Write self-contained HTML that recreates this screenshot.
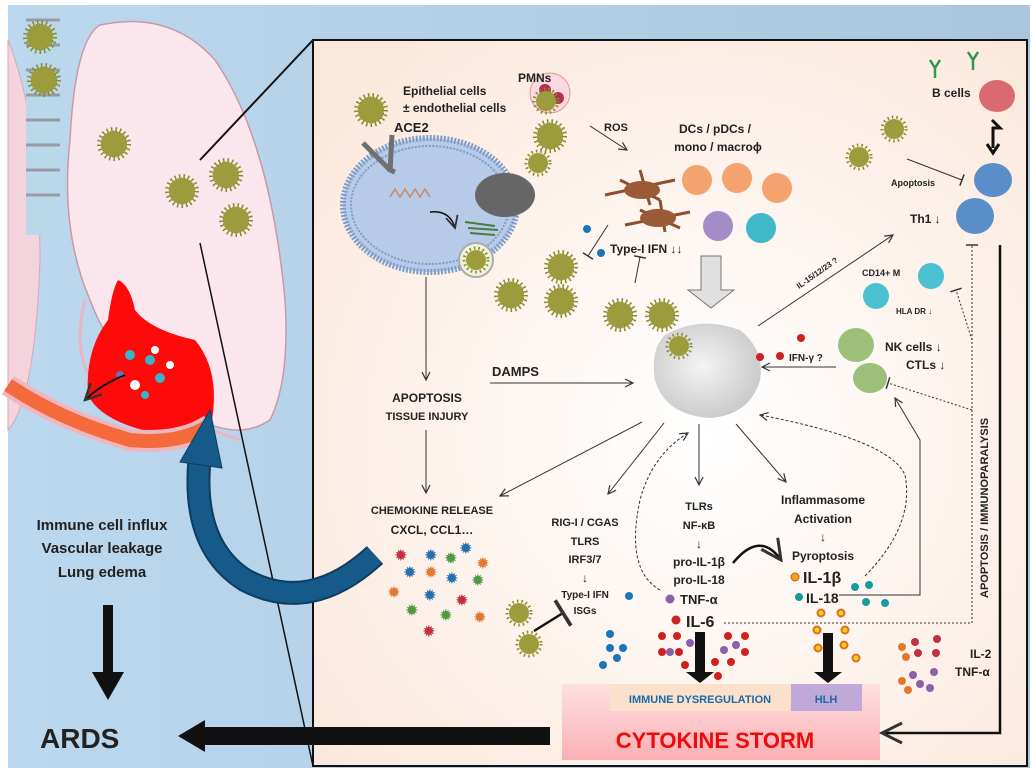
<!DOCTYPE html>
<html><head><meta charset="utf-8"><style>
html,body{margin:0;padding:0;background:#fff}
svg{display:block}
text{font-family:"Liberation Sans",sans-serif;font-weight:bold;fill:#222}
</style></head><body>
<svg width="1032" height="772" viewBox="0 0 1032 772" xmlns="http://www.w3.org/2000/svg">
<defs>
<linearGradient id="bg" x1="0" y1="0" x2="1" y2="0"><stop offset="0" stop-color="#bcd8ee"/><stop offset="1" stop-color="#a9c6de"/></linearGradient>
<radialGradient id="box" cx="0.55" cy="0.55" r="0.7"><stop offset="0" stop-color="#ffffff"/><stop offset="1" stop-color="#fbe8dc"/></radialGradient>
<linearGradient id="storm" x1="0" y1="0" x2="0" y2="1"><stop offset="0" stop-color="#fde0e2"/><stop offset="1" stop-color="#fbb0b4"/></linearGradient>
<radialGradient id="mac" cx="0.45" cy="0.45" r="0.6"><stop offset="0" stop-color="#f4f4f4"/><stop offset="1" stop-color="#c8c8c8"/></radialGradient>
<g id="v"><circle r="15" fill="none" stroke="#8a8a2a" stroke-width="4" stroke-dasharray="1.5 3"/><circle r="13" fill="#9c9c3c"/><circle r="13" fill="none" stroke="#7e7e28" stroke-width="1" stroke-dasharray="1 2"/></g>
<g id="vs"><circle r="12" fill="none" stroke="#8a8a2a" stroke-width="3" stroke-dasharray="1.5 3"/><circle r="10" fill="#9c9c3c"/></g>
<marker id="a" markerWidth="10" markerHeight="10" refX="9" refY="5" orient="auto"><path d="M1,1 L9,5 L1,9" fill="none" stroke="#333" stroke-width="1.2"/></marker>
<marker id="t" markerWidth="4" markerHeight="12" refX="2" refY="6" orient="auto"><path d="M2,0 L2,12" stroke="#333" stroke-width="1.5"/></marker>
</defs>
<rect x="8" y="5" width="1022" height="763" fill="url(#bg)"/>
<path d="M8,40 Q40,120 40,260 Q35,400 8,430 Z" fill="#f3d3dc" stroke="#d8a7b3"/>
<rect x="26" y="5" width="34" height="230" fill="#b9d9ea"/>
<g stroke="#9a9aa5" stroke-width="3">
<line x1="26" y1="20" x2="60" y2="20"/><line x1="26" y1="45" x2="60" y2="45"/><line x1="26" y1="70" x2="60" y2="70"/><line x1="26" y1="95" x2="60" y2="95"/><line x1="26" y1="120" x2="60" y2="120"/><line x1="26" y1="145" x2="60" y2="145"/><line x1="26" y1="170" x2="60" y2="170"/><line x1="26" y1="195" x2="60" y2="195"/></g>
<use href="#v" x="40" y="37"/><use href="#v" x="44" y="80"/>
<path d="M100,25 Q170,10 215,60 Q270,140 285,300 Q290,380 270,420 Q240,440 200,420 Q120,380 90,300 Q60,230 70,140 Q75,40 100,25 Z" fill="#fae6ec" stroke="#c79aa5" stroke-width="1.5"/>
<path d="M85,300 Q70,360 100,390 L240,440" fill="none" stroke="#e9b5c2" stroke-width="3"/>
<path d="M118,280 Q130,285 135,310 Q150,330 195,340 Q220,370 212,420 Q200,438 150,432 Q100,420 88,395 Q85,350 108,320 Q112,290 118,280 Z" fill="#ff0a0a"/>
<g><circle cx="130" cy="355" r="5" fill="#3ab3c8"/><circle cx="150" cy="360" r="5" fill="#3ab3c8"/><circle cx="160" cy="378" r="5" fill="#3ab3c8"/><circle cx="135" cy="385" r="5" fill="#fff"/><circle cx="155" cy="350" r="4" fill="#fff"/><circle cx="120" cy="375" r="4" fill="#7070b0"/><circle cx="170" cy="365" r="4" fill="#fff"/><circle cx="145" cy="395" r="4" fill="#3ab3c8"/></g>
<path d="M8,385 Q60,420 130,440 Q180,445 210,425" fill="none" stroke="#f0b6c0" stroke-width="22"/>
<path d="M8,385 Q60,420 130,440 Q180,445 210,425" fill="none" stroke="#f56a3a" stroke-width="14"/>
<path d="M125,375 Q100,385 85,400" fill="none" stroke="#111" stroke-width="2" marker-end="url(#a)"/>
<use href="#v" x="114" y="144"/><use href="#v" x="182" y="191"/><use href="#v" x="226" y="175"/><use href="#v" x="236" y="220"/>
<line x1="200" y1="160" x2="313" y2="40" stroke="#111" stroke-width="2"/>
<line x1="200" y1="243" x2="313" y2="766" stroke="#111" stroke-width="1.5"/>
<rect x="313" y="40" width="714" height="726" fill="url(#box)" stroke="#111" stroke-width="2"/>
<!-- blue curved arrow -->
<path d="M375,555 Q310,615 245,580 Q190,545 200,455" fill="none" stroke="#0e3d60" stroke-width="24"/>
<path d="M375,555 Q310,615 245,580 Q190,545 200,455" fill="none" stroke="#165a8a" stroke-width="20"/>
<path d="M180,462 L210,410 L222,468 Z" fill="#165a8a" stroke="#0e3d60"/>
<text x="102" y="530" text-anchor="middle" font-size="15">Immune cell influx</text>
<text x="102" y="553" text-anchor="middle" font-size="15">Vascular leakage</text>
<text x="102" y="577" text-anchor="middle" font-size="15">Lung edema</text>
<rect x="103" y="605" width="10" height="70" fill="#111"/><path d="M92,672 L124,672 L108,700 Z" fill="#111"/>
<text x="40" y="748" font-size="28" fill="#111">ARDS</text>
<rect x="200" y="727" width="350" height="18" fill="#111"/><path d="M178,736 L205,720 L205,752 Z" fill="#111"/>
<ellipse cx="430" cy="205" rx="87" ry="67" fill="#b7cbe8" stroke="#7f9dc8" stroke-width="6" stroke-dasharray="2 1.5"/>
<ellipse cx="430" cy="205" rx="79" ry="59" fill="none" stroke="#7f9dc8" stroke-width="2" stroke-dasharray="2 1.5"/>
<ellipse cx="505" cy="195" rx="30" ry="22" fill="#666"/>
<path d="M390,197 l5,-8 l5,8 l5,-8 l5,8 l5,-8 l5,8 l5,-8 l5,8" fill="none" stroke="#c88a5a" stroke-width="1.5"/>
<path d="M430,212 Q450,210 455,228" fill="none" stroke="#111" stroke-width="1.5" marker-end="url(#a)"/>
<path d="M465,222 l30,4 M468,228 l30,2 M470,233 l25,2" stroke="#4a7a40" stroke-width="2"/>
<circle cx="476" cy="260" r="17" fill="#eef4dc" stroke="#aaa" stroke-width="2"/><use href="#vs" x="476" y="260"/>
<path d="M363,143 L390,170 L395,172" stroke="#707070" stroke-width="5" fill="none"/>
<path d="M392,135 L390,172" stroke="#707070" stroke-width="5" fill="none"/>
<use href="#v" x="371" y="110"/>
<text x="403" y="95" font-size="12">Epithelial cells</text>
<text x="403" y="112" font-size="12">± endothelial cells</text>
<text x="394" y="132" font-size="13">ACE2</text>
<circle cx="550" cy="93" r="20" fill="#fbd7e2" stroke="#d99"/><circle cx="545" cy="90" r="6" fill="#b0304e"/><circle cx="558" cy="98" r="6" fill="#b0304e"/>
<use href="#vs" x="546" y="101"/>
<text x="518" y="82" font-size="12">PMNs</text>
<use href="#v" x="550" y="136"/><use href="#vs" x="538" y="163"/>
<text x="604" y="131" font-size="11" font-weight="normal">ROS</text>
<line x1="590" y1="126" x2="627" y2="150" stroke="#333" marker-end="url(#a)"/>
<text x="715" y="133" text-anchor="middle" font-size="12">DCs / pDCs /</text>
<text x="718" y="151" text-anchor="middle" font-size="12">mono / macroϕ</text>
<g stroke="#8a5030" stroke-width="3" fill="none"><path d="M605,195 L675,180 M620,180 L660,200 M640,170 L650,205"/><path d="M625,225 L690,212 M640,210 L680,228 M660,200 L665,232"/></g>
<ellipse cx="642" cy="190" rx="18" ry="9" fill="#9a5a35"/><ellipse cx="658" cy="218" rx="18" ry="9" fill="#9a5a35"/>
<circle cx="697" cy="180" r="15" fill="#f4a36e"/><circle cx="737" cy="178" r="15" fill="#f4a36e"/><circle cx="777" cy="188" r="15" fill="#f4a36e"/>
<circle cx="718" cy="226" r="15" fill="#a48cc8"/><circle cx="761" cy="228" r="15" fill="#3fb8c8"/>
<circle cx="587" cy="229" r="4" fill="#1a76b8"/><circle cx="601" cy="253" r="4" fill="#1a76b8"/>
<text x="610" y="253" font-size="12">Type-I IFN ↓↓</text>
<line x1="608" y1="225" x2="588" y2="256" stroke="#333" marker-end="url(#t)"/>
<line x1="635" y1="283" x2="640" y2="257" stroke="#333" marker-end="url(#t)"/>
<use href="#v" x="561" y="267"/><use href="#v" x="561" y="301"/><use href="#v" x="511" y="295"/><use href="#v" x="620" y="315"/><use href="#v" x="662" y="315"/>
<path d="M701,256 L721,256 L721,290 L734,290 L711,308 L688,290 L701,290 Z" fill="#e0e0e0" stroke="#777"/>
<path d="M665,335 Q700,315 740,330 Q765,350 760,380 Q750,415 710,418 Q665,415 655,380 Q650,350 665,335 Z" fill="url(#mac)"/>
<use href="#vs" x="679" y="346"/>
<text x="492" y="376" font-size="13">DAMPS</text>
<line x1="490" y1="383" x2="633" y2="383" stroke="#333" marker-end="url(#a)"/>
<line x1="426" y1="277" x2="426" y2="380" stroke="#333" marker-end="url(#a)"/>
<text x="427" y="402" text-anchor="middle" font-size="12">APOPTOSIS</text>
<text x="427" y="420" text-anchor="middle" font-size="11" font-weight="normal">TISSUE INJURY</text>
<line x1="426" y1="430" x2="426" y2="493" stroke="#333" marker-end="url(#a)"/>
<text x="432" y="514" text-anchor="middle" font-size="11">CHEMOKINE RELEASE</text>
<text x="432" y="534" text-anchor="middle" font-size="12">CXCL, CCL1…</text>
<g font-size="14" font-family="DejaVu Sans" font-weight="bold"><text x="395" y="560" style="fill:#c03040">✹</text><text x="425" y="560" style="fill:#2070b0">✹</text><text x="445" y="563" style="fill:#4a9a40">✹</text><text x="460" y="553" style="fill:#2070b0">✹</text><text x="477" y="568" style="fill:#e07830">✹</text><text x="404" y="577" style="fill:#2070b0">✹</text><text x="425" y="577" style="fill:#e07830">✹</text><text x="446" y="583" style="fill:#2070b0">✹</text><text x="472" y="585" style="fill:#4a9a40">✹</text><text x="388" y="597" style="fill:#e07830">✹</text><text x="424" y="600" style="fill:#2070b0">✹</text><text x="456" y="605" style="fill:#c03040">✹</text><text x="406" y="615" style="fill:#4a9a40">✹</text><text x="440" y="620" style="fill:#4a9a40">✹</text><text x="474" y="622" style="fill:#e07830">✹</text><text x="423" y="636" style="fill:#c03040">✹</text></g>
<line x1="642" y1="422" x2="500" y2="496" stroke="#333" marker-end="url(#a)"/>
<line x1="664" y1="423" x2="608" y2="494" stroke="#333" marker-end="url(#a)"/>
<line x1="699" y1="424" x2="699" y2="485" stroke="#333" marker-end="url(#a)"/>
<line x1="736" y1="424" x2="786" y2="482" stroke="#333" marker-end="url(#a)"/>
<path d="M660,590 Q625,570 640,500 Q652,455 688,433" fill="none" stroke="#333" stroke-dasharray="3 2" marker-end="url(#a)"/>
<path d="M865,576 Q915,525 905,475 Q890,440 760,415" fill="none" stroke="#333" stroke-dasharray="3 2" marker-end="url(#a)"/>
<text x="585" y="526" text-anchor="middle" font-size="11">RIG-I / CGAS</text>
<text x="585" y="545" text-anchor="middle" font-size="11">TLRS</text>
<text x="585" y="563" text-anchor="middle" font-size="11">IRF3/7</text>
<text x="585" y="582" text-anchor="middle" font-size="12" font-weight="normal">↓</text>
<text x="585" y="598" text-anchor="middle" font-size="10">Type-I IFN</text>
<text x="585" y="614" text-anchor="middle" font-size="10" font-weight="normal">ISGs</text>
<circle cx="629" cy="596" r="4" fill="#1a76b8"/>
<use href="#vs" x="519" y="613"/><use href="#vs" x="529" y="644"/>
<line x1="534" y1="631" x2="563" y2="613" stroke="#111" stroke-width="2.5" marker-end="url(#t)"/>
<text x="699" y="510" text-anchor="middle" font-size="11">TLRs</text>
<text x="699" y="529" text-anchor="middle" font-size="11">NF-κB</text>
<text x="699" y="548" text-anchor="middle" font-size="12" font-weight="normal">↓</text>
<text x="699" y="566" text-anchor="middle" font-size="12">pro-IL-1β</text>
<text x="699" y="584" text-anchor="middle" font-size="12">pro-IL-18</text>
<circle cx="670" cy="599" r="4.5" fill="#8a60a8"/><text x="680" y="604" font-size="13">TNF-α</text>
<circle cx="676" cy="620" r="4.5" fill="#d02020"/><text x="686" y="627" font-size="16">IL-6</text>
<path d="M733,563 Q760,530 781,560" fill="none" stroke="#111" stroke-width="2.5" marker-end="url(#a)"/>
<text x="823" y="504" text-anchor="middle" font-size="12">Inflammasome</text>
<text x="823" y="523" text-anchor="middle" font-size="12">Activation</text>
<text x="823" y="541" text-anchor="middle" font-size="12" font-weight="normal">↓</text>
<text x="823" y="560" text-anchor="middle" font-size="12">Pyroptosis</text>
<circle cx="795" cy="577" r="4" fill="#f0a020" stroke="#c06010"/><text x="803" y="583" font-size="16">IL-1β</text>
<circle cx="799" cy="597" r="4" fill="#189aa0"/><text x="806" y="603" font-size="14">IL-18</text>
<g fill="#189aa0"><circle cx="855" cy="587" r="4"/><circle cx="869" cy="585" r="4"/><circle cx="866" cy="602" r="4"/><circle cx="885" cy="603" r="4"/></g>
<path d="M839,595 L920,595 L920,440 L895,398" fill="none" stroke="#333" marker-end="url(#a)"/>
<path d="M724,623 L972,623 L972,420" fill="none" stroke="#333" stroke-dasharray="2 2"/>
<text transform="translate(988,598) rotate(-90)" font-size="11">APOPTOSIS / IMMUNOPARALYSIS</text>
<g fill="#1a76b8"><circle cx="610" cy="634" r="4"/><circle cx="610" cy="648" r="4"/><circle cx="623" cy="648" r="4"/><circle cx="617" cy="658" r="4"/><circle cx="603" cy="665" r="4"/></g>
<g fill="#d02020"><circle cx="662" cy="636" r="4"/><circle cx="677" cy="636" r="4"/><circle cx="662" cy="652" r="4"/><circle cx="679" cy="652" r="4"/><circle cx="685" cy="665" r="4"/><circle cx="728" cy="636" r="4"/><circle cx="745" cy="636" r="4"/><circle cx="745" cy="652" r="4"/><circle cx="715" cy="662" r="4"/><circle cx="731" cy="662" r="4"/><circle cx="718" cy="676" r="4"/></g>
<g fill="#8a60a8"><circle cx="670" cy="652" r="4"/><circle cx="690" cy="643" r="4"/><circle cx="724" cy="650" r="4"/><circle cx="736" cy="645" r="4"/></g>
<g fill="#f0d020" stroke="#e07020" stroke-width="2"><circle cx="821" cy="613" r="3.5"/><circle cx="841" cy="613" r="3.5"/><circle cx="817" cy="630" r="3.5"/><circle cx="845" cy="630" r="3.5"/><circle cx="818" cy="648" r="3.5"/><circle cx="844" cy="645" r="3.5"/><circle cx="856" cy="658" r="3.5"/></g>
<rect x="695" y="632" width="10" height="42" fill="#111"/><path d="M686,672 L714,672 L700,683 Z" fill="#111"/>
<rect x="823" y="633" width="10" height="42" fill="#111"/><path d="M814,672 L842,672 L828,683 Z" fill="#111"/>
<g><circle cx="902" cy="647" r="4" fill="#e07830"/><circle cx="915" cy="642" r="4" fill="#c03040"/><circle cx="937" cy="639" r="4" fill="#c03040"/><circle cx="906" cy="657" r="4" fill="#e07830"/><circle cx="918" cy="653" r="4" fill="#c03040"/><circle cx="936" cy="653" r="4" fill="#c03040"/><circle cx="913" cy="675" r="4" fill="#8a60a8"/><circle cx="934" cy="672" r="4" fill="#8a60a8"/><circle cx="902" cy="681" r="4" fill="#e07830"/><circle cx="920" cy="684" r="4" fill="#8a60a8"/><circle cx="930" cy="688" r="4" fill="#8a60a8"/><circle cx="908" cy="690" r="4" fill="#e07830"/></g>
<text x="970" y="658" font-size="12">IL-2</text><text x="955" y="676" font-size="12">TNF-α</text>
<rect x="562" y="684" width="318" height="76" fill="url(#storm)"/>
<rect x="610" y="684" width="180" height="27" fill="#fbe0cc"/>
<rect x="791" y="684" width="71" height="27" fill="#c0a8d8"/>
<text x="700" y="703" text-anchor="middle" font-size="11" style="fill:#1a6aa8">IMMUNE DYSREGULATION</text>
<text x="826" y="703" text-anchor="middle" font-size="11" style="fill:#1a6aa8">HLH</text>
<text x="715" y="748" text-anchor="middle" font-size="22" style="fill:#f00a0a">CYTOKINE STORM</text>
<path d="M1000,245 L1000,733 L882,733" fill="none" stroke="#111" stroke-width="2.5" marker-end="url(#a)"/>
<path d="M935,78 l0,-10 m0,0 l-5,-8 m5,8 l5,-8" stroke="#2a9a50" stroke-width="2.5" fill="none"/>
<path d="M973,70 l0,-10 m0,0 l-5,-8 m5,8 l5,-8" stroke="#2a9a50" stroke-width="2.5" fill="none"/>
<ellipse cx="997" cy="96" rx="18" ry="16" fill="#d96a72"/>
<text x="932" y="97" font-size="12">B cells</text>
<path d="M992,120 L1000,128 L992,128 M993,127 L993,148 M987,144 L993,153 L999,144" fill="none" stroke="#111" stroke-width="3"/>
<ellipse cx="993" cy="180" rx="19" ry="17" fill="#5a8ec8"/><ellipse cx="975" cy="216" rx="19" ry="18" fill="#5a8ec8"/>
<use href="#vs" x="894" y="129"/><use href="#vs" x="859" y="157"/>
<text x="891" y="186" font-size="9" font-weight="normal">Apoptosis</text>
<line x1="907" y1="159" x2="962" y2="180" stroke="#333" marker-end="url(#t)"/>
<text x="910" y="223" font-size="12">Th1 ↓</text>
<line x1="758" y1="326" x2="893" y2="235" stroke="#333" marker-end="url(#a)"/>
<text transform="translate(799,289) rotate(-35)" font-size="8">IL-15/12/23 ?</text>
<text x="862" y="276" font-size="9">CD14+ M</text>
<circle cx="931" cy="276" r="13" fill="#4ac0d0"/><circle cx="876" cy="296" r="13" fill="#4ac0d0"/>
<text x="896" y="314" font-size="8">HLA DR ↓</text>
<ellipse cx="856" cy="345" rx="18" ry="17" fill="#9cc07a"/><ellipse cx="870" cy="378" rx="17" ry="15" fill="#9cc07a"/>
<text x="885" y="351" font-size="12">NK cells ↓</text>
<text x="906" y="369" font-size="12">CTLs ↓</text>
<circle cx="801" cy="338" r="4" fill="#d02020"/><circle cx="760" cy="357" r="4" fill="#d02020"/><circle cx="780" cy="356" r="4" fill="#d02020"/>
<text x="789" y="361" font-size="10">IFN-γ ?</text>
<line x1="836" y1="367" x2="762" y2="367" stroke="#333" marker-end="url(#a)"/>
<line x1="972" y1="420" x2="972" y2="245" stroke="#333" stroke-dasharray="2 2" marker-end="url(#t)"/>
<line x1="972" y1="340" x2="956" y2="290" stroke="#333" stroke-dasharray="2 2" marker-end="url(#t)"/>
<line x1="972" y1="410" x2="888" y2="383" stroke="#333" stroke-dasharray="2 2" marker-end="url(#t)"/>
</svg>
</body></html>
